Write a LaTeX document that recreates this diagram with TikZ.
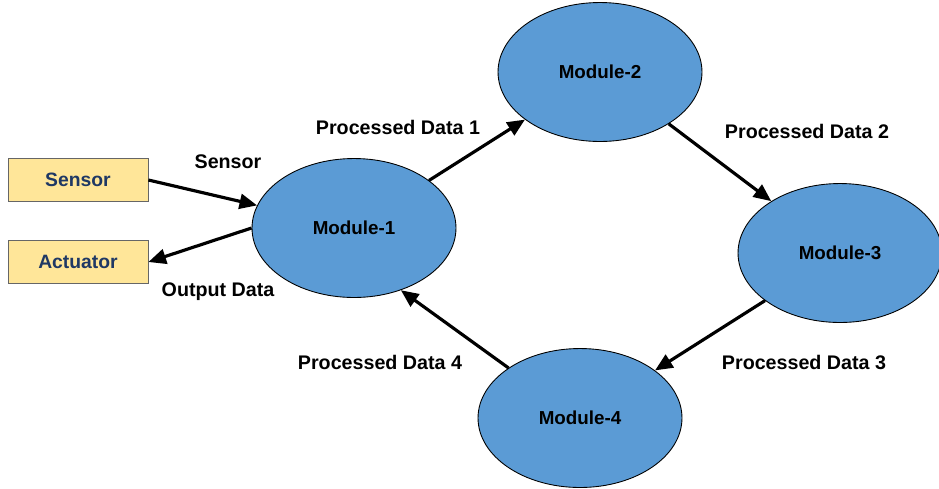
\documentclass[tikz,border=0pt]{standalone}
\usepackage{fontspec}
\setmainfont{Liberation Sans}
\usetikzlibrary{shapes.geometric,arrows.meta}
\definecolor{modblue}{HTML}{5B9BD5}
\definecolor{portyellow}{HTML}{FFE699}
\definecolor{portnavy}{HTML}{1F3864}
\begin{document}
\begin{tikzpicture}[x=0.02cm,y=-0.02cm,
  every node/.style={font=\fontsize{11.2}{13}\selectfont\bfseries},
  module/.style={ellipse,draw=black,line width=0.5pt,fill=modblue,inner sep=0pt,
    minimum width=4.08cm,minimum height=2.78cm,font=\fontsize{10.7}{12}\selectfont\bfseries},
  port/.style={rectangle,draw=black!60,line width=0.5pt,fill=portyellow,text=portnavy,
    minimum width=2.8cm,minimum height=0.86cm,inner sep=0pt,
    font=\fontsize{11}{13}\selectfont\bfseries},
  flow/.style={-{Triangle[length=10pt,width=8.5pt]},line width=1.8pt}]
 \useasboundingbox (0,0) rectangle (939,488);
 \node [port] (sensor) at (78,180) {Sensor};
 \node [port] (actuator) at (78,262) {Actuator};
 \node [module] (m1) at (354,228) {Module-1};
 \node [module] (m2) at (600,72) {Module-2};
 \node [module] (m3) at (840,253) {Module-3};
 \node [module] (m4) at (580,418) {Module-4};
 % links
 \draw [flow] (sensor.east) -- (m1);
 \draw [flow] (m1.west) -- (actuator.east);
 \draw [flow] (m1) -- (m2);
 \draw [flow] (m2) -- (m3);
 \draw [flow] (m3) -- (m4);
 \draw [flow] (m4.145) -- (m1.-53);
 % labels
 \node (lsens) at (228,162) {Sensor};
 \node (lout) at (218,292) {Output Data};
 \node (lp1) at (398,127) {Processed Data 1};
 \node (lp2) at (807,131) {Processed Data 2};
 \node (lp3) at (804,362) {Processed Data 3};
 \node (lp4) at (380,362) {Processed Data 4};
\end{tikzpicture}
\end{document}
